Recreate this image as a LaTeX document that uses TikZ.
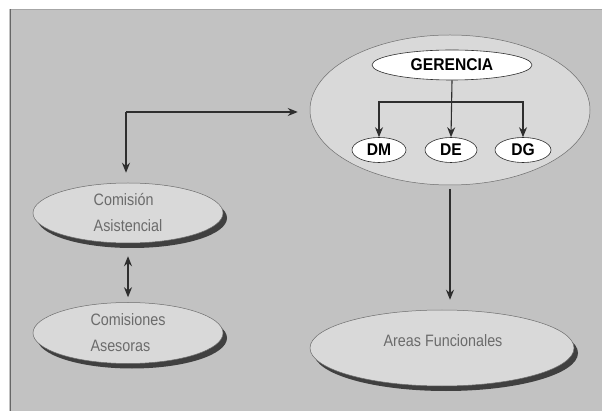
\documentclass[tikz,border=0pt]{standalone}
\usepackage{fontspec}
\setmainfont{Liberation Sans}
\newfontfamily\lightcond[FakeStretch=0.87]{Liberation Sans}
\newfontfamily\heavycond[FakeStretch=0.92]{Liberation Sans}
\usetikzlibrary{shapes.geometric,arrows.meta,shadows}

\definecolor{paper}{gray}{0.76}
\definecolor{oval}{gray}{0.85}
\definecolor{ink}{gray}{0.18}
\definecolor{softtext}{gray}{0.42}

\tikzset{
  unitbox/.style={draw=ink!70, line width=0.5pt, fill=oval, ellipse, inner sep=0pt},
  shadowed/.style={unitbox, drop shadow={shadow xshift=4pt, shadow yshift=-5pt, fill=black!75, opacity=1}},
  whitebox/.style={draw=ink, line width=0.6pt, fill=white, ellipse, inner sep=0pt,
    font=\heavycond\bfseries\fontsize{17}{17}\selectfont},
  softlabel/.style={font=\lightcond\fontsize{16.5}{26}\selectfont, text=softtext, align=left},
  link/.style={draw=ink, line width=1.1pt, -{Stealth[length=10pt,width=8pt]}},
  twoway/.style={draw=ink, line width=1.1pt, {Stealth[length=10pt,width=8pt]}-{Stealth[length=10pt,width=8pt]}}
}

\begin{document}
\begin{tikzpicture}[x=1pt, y=-1pt]
  \useasboundingbox (0,0) rectangle (602,411);
  % page background and frame
  \fill[paper] (9,9) rectangle (602,411);
  \draw[black!35, line width=0.5pt] (10,9.5) -- (602,9.5);
  \draw[black!60, line width=0.8pt] (10,9) -- (10,411);

  % management group
  \node[unitbox, minimum width=280, minimum height=150] (big) at (450,110) {};
  \node[whitebox, minimum width=160, minimum height=30] (ger) at (452,65) {GERENCIA};
  \node[whitebox, minimum width=54, minimum height=25] (dm) at (379,150) {DM};
  \node[whitebox, minimum width=52, minimum height=25] (de) at (451,150) {DE};
  \node[whitebox, minimum width=56, minimum height=25] (dg) at (523,150) {DG};

  % committees and functional areas
  \node[shadowed, minimum width=190, minimum height=60] (asis) at (128,213) {};
  \node[softlabel] at (asis.center) {Comisión\\Asistencial};
  \node[shadowed, minimum width=190, minimum height=61] (ases) at (128,333) {};
  \node[softlabel] at (ases.center) {Comisiones\\Asesoras};
  \node[shadowed, minimum width=264, minimum height=76] (areas) at (442,348) {};
  \node[softlabel, anchor=base] at (443,347) {Areas Funcionales};

  % internal hierarchy
  \coordinate (hub) at (451,102);
  \draw[link] (ger.south) -- (de.north);
  \draw[link] (hub) -| (dm.north);
  \draw[link] (hub) -| (dg.north);

  % links between groups
  \coordinate (knee) at (126,112);
  \draw[link, shorten >=12pt] (knee) -- (knee -| big.west);
  \draw[link, shorten >=10pt] (knee) -- (knee |- asis.north);
  \draw[twoway, shorten <=13pt, shorten >=5pt] (asis.south) -- (ases.north);
  \draw[link, shorten <=4pt, shorten >=10pt] (big.south) -- (big.south |- areas.north);
\end{tikzpicture}
\end{document}
